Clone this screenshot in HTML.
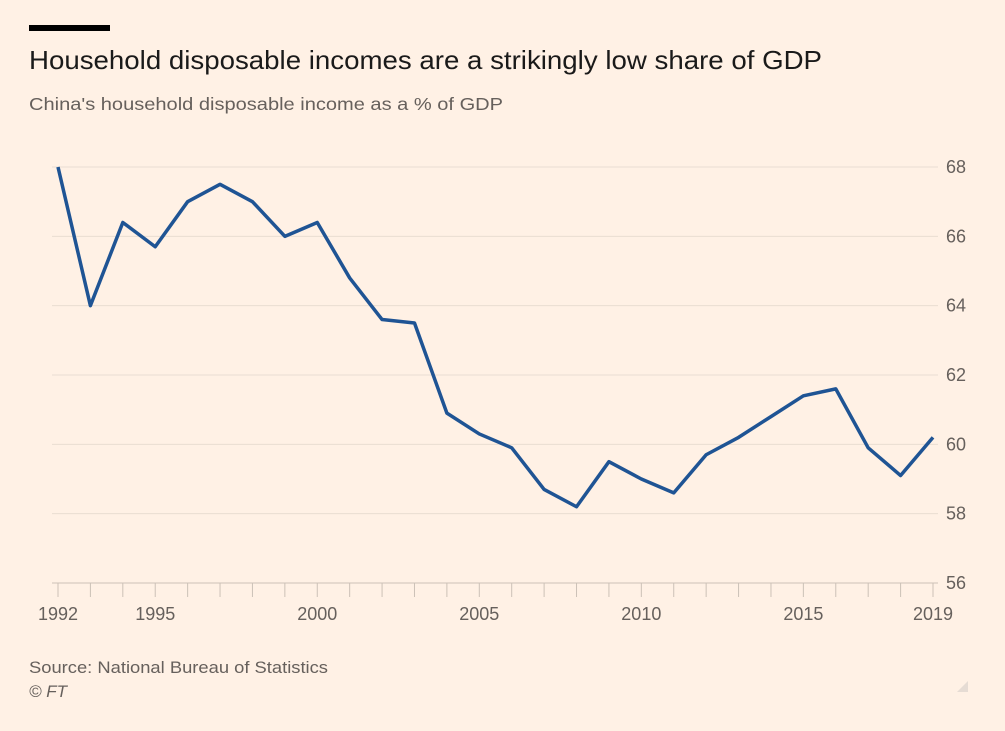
<!DOCTYPE html>
<html><head><meta charset="utf-8"><style>
body{margin:0;width:1005px;height:726px;background:#fff1e5;font-family:"Liberation Sans",sans-serif;overflow:hidden}
</style></head><body>
<svg width="1005" height="726">
<rect x="29" y="25" width="81" height="6" fill="#000"/>
<text x="29" y="69" font-size="26" fill="#1a1a1a" textLength="793" lengthAdjust="spacingAndGlyphs">Household disposable incomes are a strikingly low share of GDP</text>
<text x="29" y="110" font-size="17.5" fill="#66605c" textLength="474" lengthAdjust="spacingAndGlyphs">China's household disposable income as a % of GDP</text>
<g id="grid"></g>
<g id="xaxis"></g>
<path id="line" fill="none" stroke="#1f5494" stroke-width="3.5" stroke-linejoin="round"/>
<text x="29" y="673" font-size="17" fill="#66605c" textLength="299" lengthAdjust="spacingAndGlyphs">Source: National Bureau of Statistics</text>
<text x="29" y="697" font-size="17" font-style="italic" fill="#66605c">© FT</text>
<path d="M968 681 L968 692 L957 692 Z" fill="#e6dcd4"/>
</svg>
<script>
const years=[1992,1993,1994,1995,1996,1997,1998,1999,2000,2001,2002,2003,2004,2005,2006,2007,2008,2009,2010,2011,2012,2013,2014,2015,2016,2017,2018,2019];
const values=[68.0,64.0,66.4,65.7,67.0,67.5,67.0,66.0,66.4,64.8,63.6,63.5,60.9,60.3,59.9,58.7,58.2,59.5,59.0,58.6,59.7,60.2,60.8,61.4,61.6,59.9,59.1,60.2];
const yTicks=[56,58,60,62,64,66,68];
const xLabels=[1992,1995,2000,2005,2010,2015,2019];
const NS="http://www.w3.org/2000/svg";
const x=v=>58+(v-1992)*(933-58)/27;
const y=v=>583-(v-56)*(583-167)/12;
function mk(tag,attrs,parent){const e=document.createElementNS(NS,tag);for(const k in attrs)e.setAttribute(k,attrs[k]);parent.appendChild(e);return e;}
const grid=document.getElementById('grid'),xa=document.getElementById('xaxis');
yTicks.forEach(t=>{
 const l=mk('line',{x1:52,x2:938,y1:y(t),y2:y(t),stroke:t===56?'#ccc1b7':'#e9ddd2','stroke-width':1},grid);
 
 
 const tx=mk('text',{x:946,y:y(t)+6,'font-size':18,fill:'#66605c'},grid);
 tx.textContent=t;
 
 
});
years.forEach(yr=>{
 const l=mk('line',{x1:x(yr),x2:x(yr),y1:583,y2:597,stroke:'#ccc1b7','stroke-width':1},xa);
 
 
});
xLabels.forEach(yr=>{
 const tx=mk('text',{x:x(yr),y:620,'font-size':18,fill:'#66605c','text-anchor':'middle'},xa);
 tx.textContent=yr;
 
 
});
document.getElementById('line').setAttribute('d',years.map((yr,i)=>(i?'L':'M')+x(yr)+' '+y(values[i])).join(' '));
</script>
</body></html>
